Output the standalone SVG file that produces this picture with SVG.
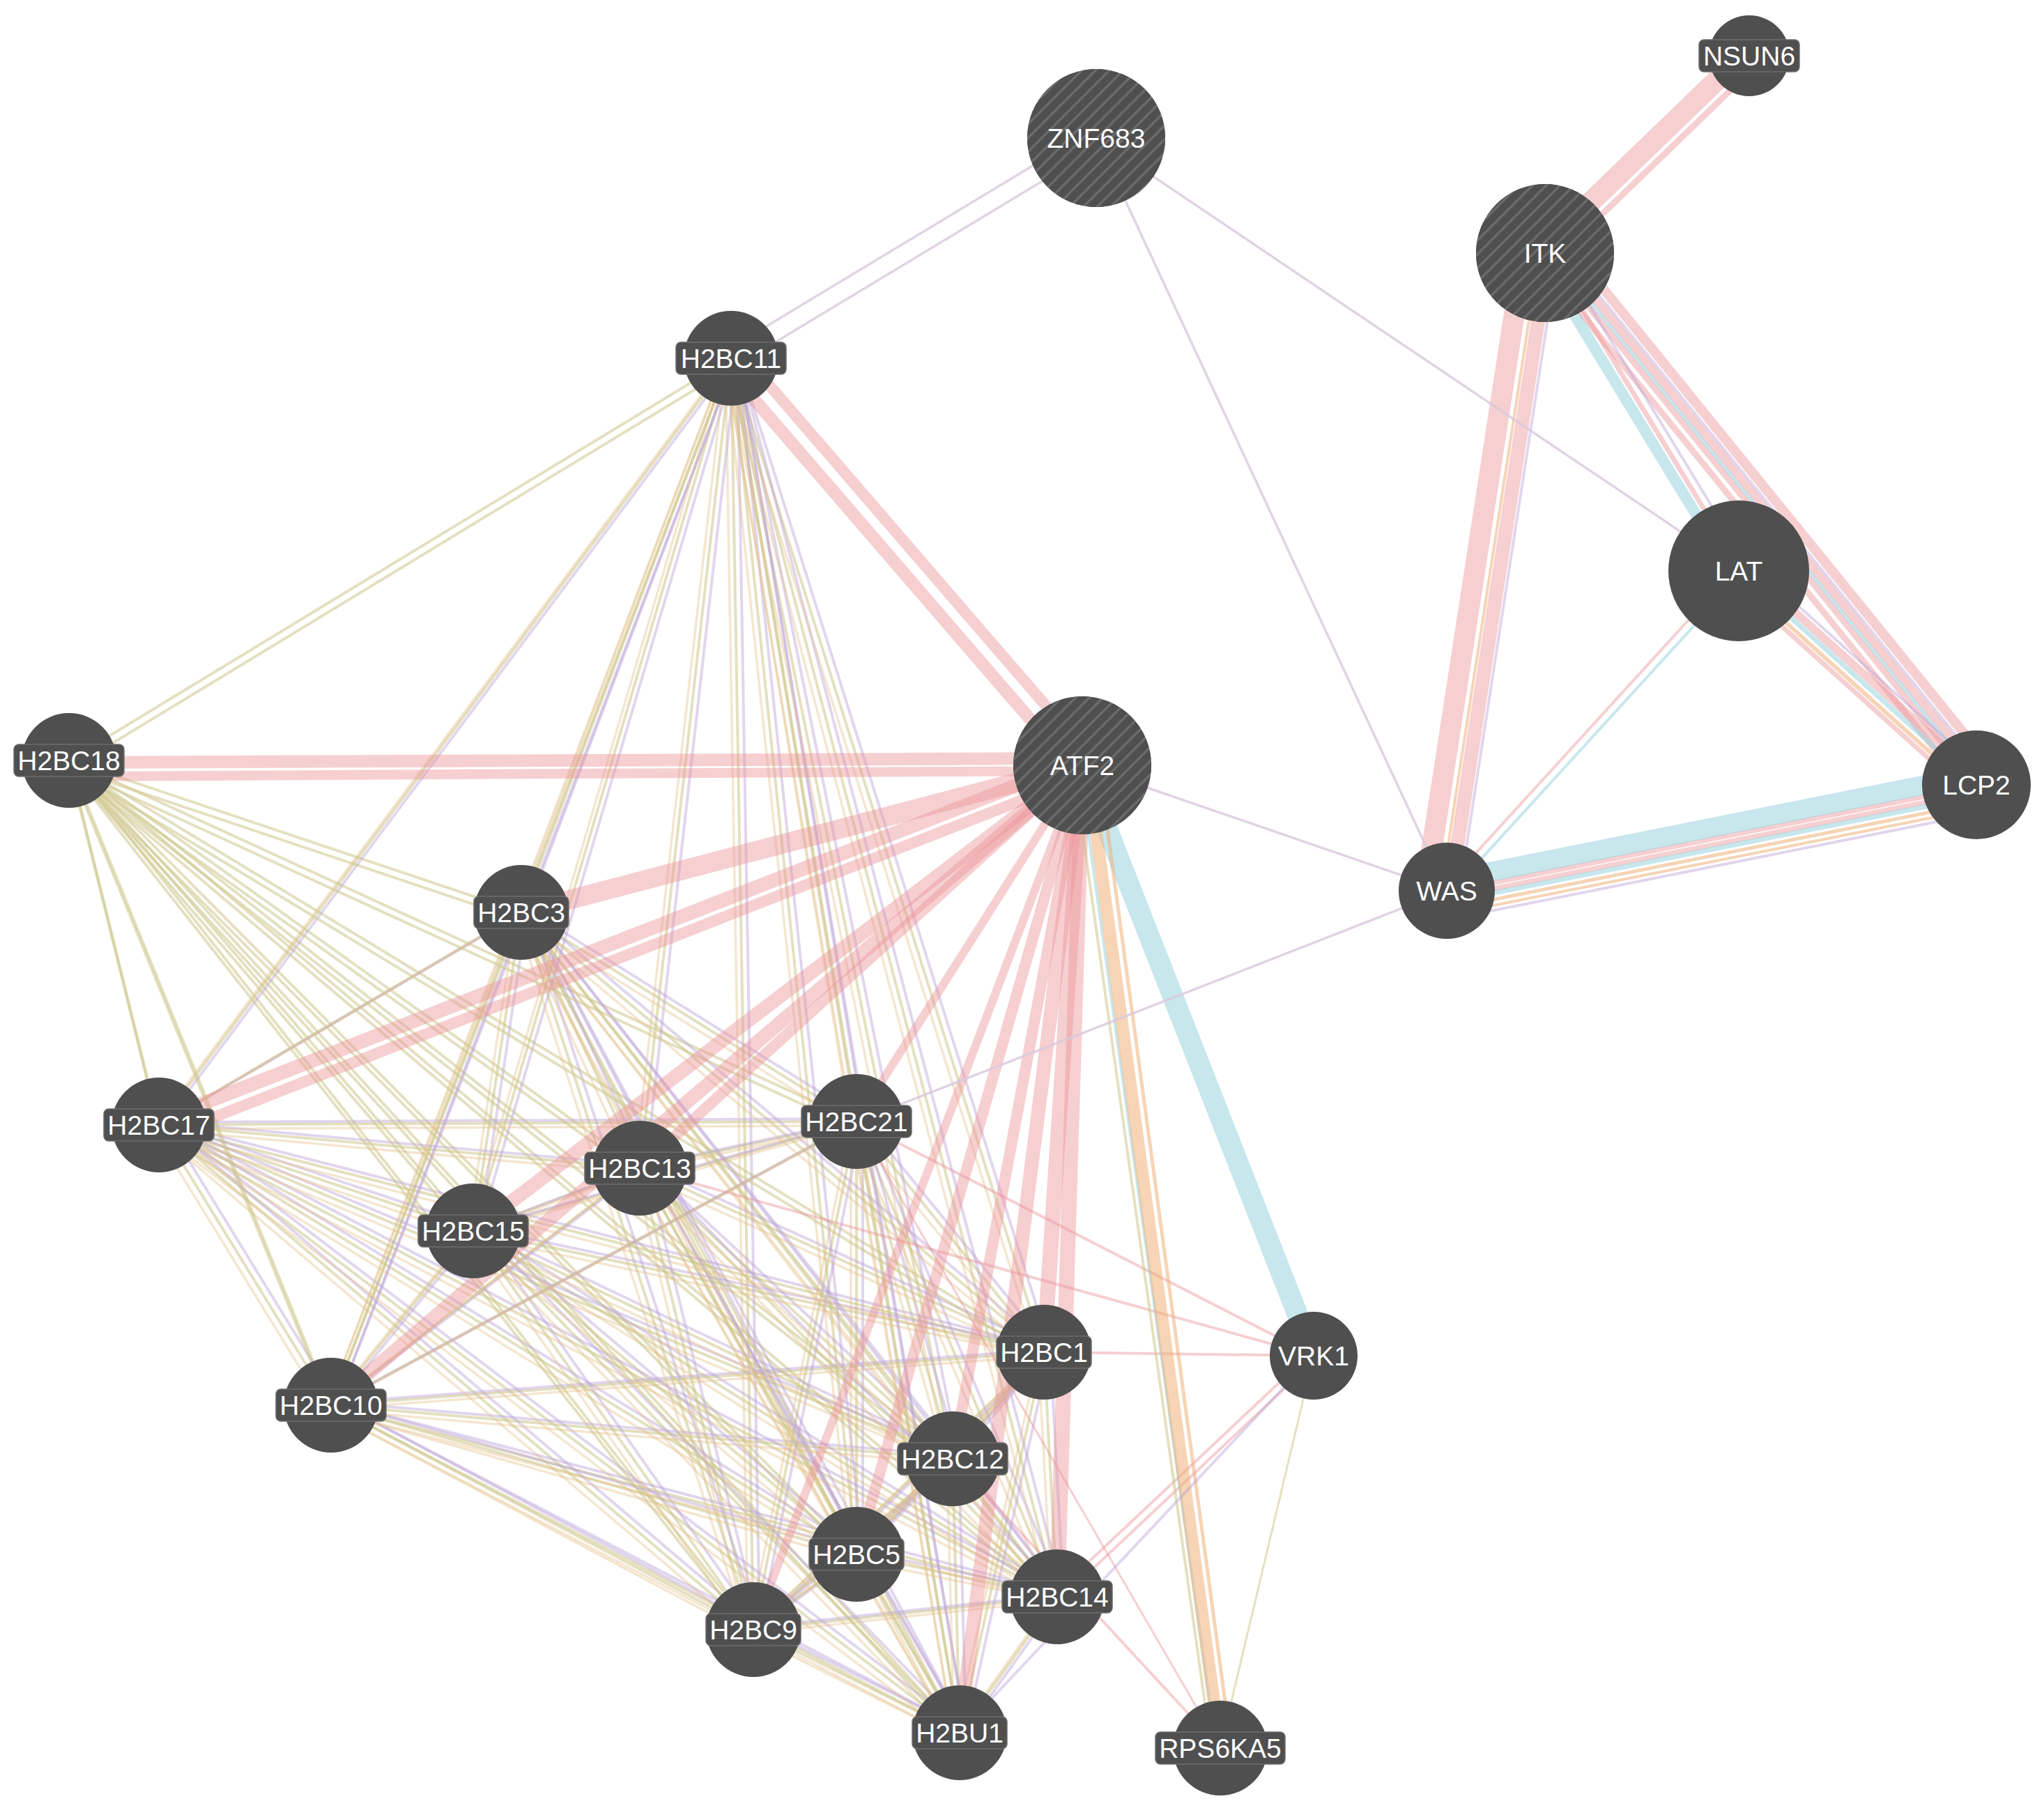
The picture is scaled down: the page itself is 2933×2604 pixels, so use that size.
<svg xmlns="http://www.w3.org/2000/svg" xmlns:xlink="http://www.w3.org/1999/xlink" width="2933" height="2604" viewBox="0 0 2933 2604">
<style>
.k{stroke:#cdc78c;stroke-width:4;stroke-opacity:.55;fill:none}
.p{stroke:#bda3d6;stroke-width:4;stroke-opacity:.45;fill:none}
.t{stroke:#e3c08a;stroke-width:3.5;stroke-opacity:.4;fill:none}
.r{stroke:#ec949a;stroke-opacity:.45;fill:none}
.b{stroke:#8fd0dc;stroke-opacity:.5;fill:none}
.o{stroke:#eeb178;stroke-opacity:.55;fill:none}
.g{stroke:#d8c8dc;stroke-width:3.5;stroke-opacity:.8;fill:none}
.node{fill:#4f4f4f}
.hat{fill:url(#hatch)}
.lb{fill:#4f4f4f;stroke:#6e6e6e;stroke-width:1.5}
text{font-family:"Liberation Sans",Arial,Helvetica,sans-serif;font-size:39px;fill:#ffffff;text-anchor:middle}
</style>
<defs>
<pattern id="hatch" patternUnits="userSpaceOnUse" width="14" height="14" patternTransform="rotate(45)">
<rect width="14" height="14" fill="#4f4f4f"/>
<line x1="7" y1="0" x2="7" y2="14" stroke="#6e6e6e" stroke-width="3"/>
</pattern>
</defs>
<rect width="2933" height="2604" fill="#ffffff"/>
<g id="connectors">
<g class="k">
<g id="clB">
<line x1="1049" y1="514" x2="99" y2="1091"/>
<line x1="99" y1="1091" x2="748" y2="1309"/>
<line x1="99" y1="1091" x2="228" y2="1614"/>
<line x1="99" y1="1091" x2="1229" y2="1609"/>
<line x1="99" y1="1091" x2="918" y2="1676"/>
<line x1="99" y1="1091" x2="679" y2="1766"/>
<line x1="99" y1="1091" x2="475" y2="2016"/>
<line x1="99" y1="1091" x2="1498" y2="1940"/>
<line x1="99" y1="1091" x2="1367" y2="2093"/>
<line x1="99" y1="1091" x2="1229" y2="2230"/>
<line x1="99" y1="1091" x2="1517" y2="2291"/>
<line x1="99" y1="1091" x2="1081" y2="2338"/>
<line x1="99" y1="1091" x2="1377" y2="2486"/>
</g>
<g id="clR">
<line x1="1049" y1="514" x2="748" y2="1309"/>
<line x1="1049" y1="514" x2="228" y2="1614"/>
<line x1="1049" y1="514" x2="1229" y2="1609"/>
<line x1="1049" y1="514" x2="918" y2="1676"/>
<line x1="1049" y1="514" x2="679" y2="1766"/>
<line x1="1049" y1="514" x2="475" y2="2016"/>
<line x1="1049" y1="514" x2="1498" y2="1940"/>
<line x1="1049" y1="514" x2="1367" y2="2093"/>
<line x1="1049" y1="514" x2="1229" y2="2230"/>
<line x1="1049" y1="514" x2="1517" y2="2291"/>
<line x1="1049" y1="514" x2="1081" y2="2338"/>
<line x1="1049" y1="514" x2="1377" y2="2486"/>
<line x1="748" y1="1309" x2="228" y2="1614"/>
<line x1="748" y1="1309" x2="1229" y2="1609"/>
<line x1="748" y1="1309" x2="918" y2="1676"/>
<line x1="748" y1="1309" x2="679" y2="1766"/>
<line x1="748" y1="1309" x2="475" y2="2016"/>
<line x1="748" y1="1309" x2="1498" y2="1940"/>
<line x1="748" y1="1309" x2="1367" y2="2093"/>
<line x1="748" y1="1309" x2="1229" y2="2230"/>
<line x1="748" y1="1309" x2="1517" y2="2291"/>
<line x1="748" y1="1309" x2="1081" y2="2338"/>
<line x1="748" y1="1309" x2="1377" y2="2486"/>
<line x1="228" y1="1614" x2="1229" y2="1609"/>
<line x1="228" y1="1614" x2="918" y2="1676"/>
<line x1="228" y1="1614" x2="679" y2="1766"/>
<line x1="228" y1="1614" x2="475" y2="2016"/>
<line x1="228" y1="1614" x2="1498" y2="1940"/>
<line x1="228" y1="1614" x2="1367" y2="2093"/>
<line x1="228" y1="1614" x2="1229" y2="2230"/>
<line x1="228" y1="1614" x2="1517" y2="2291"/>
<line x1="228" y1="1614" x2="1081" y2="2338"/>
<line x1="228" y1="1614" x2="1377" y2="2486"/>
<line x1="1229" y1="1609" x2="918" y2="1676"/>
<line x1="1229" y1="1609" x2="679" y2="1766"/>
<line x1="1229" y1="1609" x2="475" y2="2016"/>
<line x1="1229" y1="1609" x2="1498" y2="1940"/>
<line x1="1229" y1="1609" x2="1367" y2="2093"/>
<line x1="1229" y1="1609" x2="1229" y2="2230"/>
<line x1="1229" y1="1609" x2="1517" y2="2291"/>
<line x1="1229" y1="1609" x2="1081" y2="2338"/>
<line x1="1229" y1="1609" x2="1377" y2="2486"/>
<line x1="918" y1="1676" x2="679" y2="1766"/>
<line x1="918" y1="1676" x2="475" y2="2016"/>
<line x1="918" y1="1676" x2="1498" y2="1940"/>
<line x1="918" y1="1676" x2="1367" y2="2093"/>
<line x1="918" y1="1676" x2="1229" y2="2230"/>
<line x1="918" y1="1676" x2="1517" y2="2291"/>
<line x1="918" y1="1676" x2="1081" y2="2338"/>
<line x1="918" y1="1676" x2="1377" y2="2486"/>
<line x1="679" y1="1766" x2="475" y2="2016"/>
<line x1="679" y1="1766" x2="1498" y2="1940"/>
<line x1="679" y1="1766" x2="1367" y2="2093"/>
<line x1="679" y1="1766" x2="1229" y2="2230"/>
<line x1="679" y1="1766" x2="1517" y2="2291"/>
<line x1="679" y1="1766" x2="1081" y2="2338"/>
<line x1="679" y1="1766" x2="1377" y2="2486"/>
<line x1="475" y1="2016" x2="1498" y2="1940"/>
<line x1="475" y1="2016" x2="1367" y2="2093"/>
<line x1="475" y1="2016" x2="1229" y2="2230"/>
<line x1="475" y1="2016" x2="1517" y2="2291"/>
<line x1="475" y1="2016" x2="1081" y2="2338"/>
<line x1="475" y1="2016" x2="1377" y2="2486"/>
<line x1="1498" y1="1940" x2="1367" y2="2093"/>
<line x1="1498" y1="1940" x2="1229" y2="2230"/>
<line x1="1498" y1="1940" x2="1517" y2="2291"/>
<line x1="1498" y1="1940" x2="1081" y2="2338"/>
<line x1="1498" y1="1940" x2="1377" y2="2486"/>
<line x1="1367" y1="2093" x2="1229" y2="2230"/>
<line x1="1367" y1="2093" x2="1517" y2="2291"/>
<line x1="1367" y1="2093" x2="1081" y2="2338"/>
<line x1="1367" y1="2093" x2="1377" y2="2486"/>
<line x1="1229" y1="2230" x2="1517" y2="2291"/>
<line x1="1229" y1="2230" x2="1081" y2="2338"/>
<line x1="1229" y1="2230" x2="1377" y2="2486"/>
<line x1="1517" y1="2291" x2="1081" y2="2338"/>
<line x1="1517" y1="2291" x2="1377" y2="2486"/>
<line x1="1081" y1="2338" x2="1377" y2="2486"/>
</g>
</g>
<use href="#clR" xlink:href="#clR" class="p" transform="translate(9,-4)"/>
<use href="#clR" xlink:href="#clR" class="t" transform="translate(-8,6)"/>
<use href="#clB" xlink:href="#clB" class="k" transform="translate(2,12)"/>
<g class="r">
<line x1="99" y1="1094" x2="1553" y2="1088" stroke-width="18"/>
<line x1="99" y1="1114" x2="1553" y2="1106" stroke-width="14"/>
<line x1="1039" y1="523" x2="1543" y2="1107" stroke-width="18"/>
<line x1="1061" y1="503" x2="1565" y2="1087" stroke-width="16"/>
<line x1="748" y1="1309" x2="1553" y2="1098" stroke-width="28"/>
<line x1="228" y1="1608" x2="1553" y2="1090" stroke-width="20"/>
<line x1="238" y1="1630" x2="1558" y2="1112" stroke-width="16"/>
<line x1="679" y1="1766" x2="1553" y2="1098" stroke-width="20"/>
<line x1="475" y1="2016" x2="1553" y2="1098" stroke-width="20"/>
<line x1="918" y1="1676" x2="1553" y2="1098" stroke-width="16"/>
<line x1="1229" y1="1609" x2="1553" y2="1098" stroke-width="12"/>
<line x1="1498" y1="1940" x2="1553" y2="1098" stroke-width="22"/>
<line x1="1367" y1="2093" x2="1553" y2="1098" stroke-width="16"/>
<line x1="1229" y1="2230" x2="1553" y2="1098" stroke-width="16"/>
<line x1="1517" y1="2291" x2="1553" y2="1098" stroke-width="22"/>
<line x1="1081" y1="2338" x2="1553" y2="1098" stroke-width="12"/>
<line x1="1377" y1="2486" x2="1553" y2="1098" stroke-width="20"/>
<line x1="1498" y1="1940" x2="1885" y2="1945" stroke-width="4"/>
<line x1="1229" y1="1609" x2="1885" y2="1945" stroke-width="4"/>
<line x1="918" y1="1676" x2="1885" y2="1945" stroke-width="4"/>
<line x1="1513" y1="2287" x2="1881" y2="1941" stroke-width="4"/>
<line x1="1521" y1="2295" x2="1889" y2="1949" stroke-width="4"/>
<line x1="1367" y1="2093" x2="1751" y2="2508" stroke-width="4"/>
<line x1="1229" y1="1609" x2="1751" y2="2508" stroke-width="3"/>
<line x1="2212" y1="358" x2="2505" y2="75" stroke-width="30"/>
<line x1="2229" y1="375" x2="2522" y2="92" stroke-width="9"/>
<line x1="2187" y1="359" x2="2046" y2="1274" stroke-width="30"/>
<line x1="2225" y1="364" x2="2084" y2="1279" stroke-width="14"/>
<line x1="2215" y1="363" x2="2074" y2="1278" stroke-width="6"/>
<line x1="2220" y1="361" x2="2498" y2="817" stroke-width="7"/>
<line x1="2242" y1="342" x2="2861" y2="1105" stroke-width="14"/>
<line x1="2228" y1="354" x2="2847" y2="1117" stroke-width="12"/>
<line x1="2217" y1="363" x2="2836" y2="1126" stroke-width="9"/>
<line x1="2206" y1="372" x2="2825" y2="1135" stroke-width="9"/>
<line x1="2502" y1="812" x2="2843" y2="1119" stroke-width="12"/>
<line x1="2483" y1="832" x2="2824" y2="1139" stroke-width="7"/>
<line x1="2491" y1="815" x2="2072" y2="1274" stroke-width="4"/>
<line x1="2076" y1="1280" x2="2836" y2="1128" stroke-width="7"/>
<line x1="2078" y1="1288" x2="2838" y2="1136" stroke-width="7"/>
</g>
<g class="b">
<line x1="1553" y1="1098" x2="1885" y2="1945" stroke-width="30"/>
<line x1="1548" y1="1098" x2="1745" y2="2508" stroke-width="4"/>
<line x1="2208" y1="368" x2="2486" y2="824" stroke-width="16"/>
<line x1="2222" y1="359" x2="2841" y2="1122" stroke-width="5"/>
<line x1="2495" y1="819" x2="2836" y2="1126" stroke-width="7"/>
<line x1="2499" y1="823" x2="2080" y2="1282" stroke-width="4"/>
<line x1="2073" y1="1264" x2="2833" y2="1112" stroke-width="28"/>
<line x1="2079" y1="1294" x2="2839" y2="1142" stroke-width="7"/>
</g>
<g class="o">
<line x1="1560" y1="1100" x2="1751" y2="2508" stroke-width="18"/>
<line x1="1577" y1="1100" x2="1767" y2="2508" stroke-width="5"/>
<line x1="2209" y1="362" x2="2068" y2="1277" stroke-width="4"/>
<line x1="2488" y1="826" x2="2829" y2="1133" stroke-width="6"/>
<line x1="2081" y1="1303" x2="2841" y2="1151" stroke-width="5"/>
<line x1="2083" y1="1311" x2="2843" y2="1159" stroke-width="4"/>
</g>
<g class="k">
<line x1="1540" y1="1098" x2="1738" y2="2508"/>
<line x1="1885" y1="1945" x2="1751" y2="2508" stroke-width="3"/>
</g>
<g class="p">
<line x1="1885" y1="1945" x2="1377" y2="2486"/>
<line x1="2235" y1="366" x2="2094" y2="1281"/>
<line x1="2230" y1="355" x2="2508" y2="811"/>
<line x1="2234" y1="349" x2="2853" y2="1112"/>
<line x1="2508" y1="804" x2="2849" y2="1111"/>
<line x1="2084" y1="1318" x2="2844" y2="1166"/>
</g>
<g class="g">
<line x1="1042" y1="503" x2="1566" y2="187"/>
<line x1="1056" y1="525" x2="1580" y2="209"/>
<line x1="1573" y1="198" x2="2076" y2="1278"/>
<line x1="1573" y1="198" x2="2495" y2="819"/>
<line x1="1553" y1="1098" x2="2076" y2="1278"/>
<line x1="2076" y1="1278" x2="1229" y2="1609"/>
</g>
</g>
<g id="n-ZNF683"><circle cx="1573" cy="198" r="99" class="node"/><circle cx="1573" cy="198" r="99" class="hat"/><text x="1573" y="212">ZNF683</text></g>
<g id="n-NSUN6"><circle cx="2510" cy="80" r="58" class="node"/><rect x="2438" y="57" width="144" height="46" rx="7" class="lb"/><text x="2510" y="94">NSUN6</text></g>
<g id="n-ITK"><circle cx="2217" cy="363" r="99" class="node"/><circle cx="2217" cy="363" r="99" class="hat"/><text x="2217" y="377">ITK</text></g>
<g id="n-LAT"><circle cx="2495" cy="819" r="101" class="node"/><text x="2495" y="833">LAT</text></g>
<g id="n-LCP2"><circle cx="2836" cy="1126" r="78" class="node"/><text x="2836" y="1140">LCP2</text></g>
<g id="n-WAS"><circle cx="2076" cy="1278" r="69" class="node"/><text x="2076" y="1292">WAS</text></g>
<g id="n-ATF2"><circle cx="1553" cy="1098" r="99" class="node"/><circle cx="1553" cy="1098" r="99" class="hat"/><text x="1553" y="1112">ATF2</text></g>
<g id="n-H2BC11"><circle cx="1049" cy="514" r="68" class="node"/><rect x="970" y="491" width="158" height="46" rx="7" class="lb"/><text x="1049" y="528">H2BC11</text></g>
<g id="n-H2BC18"><circle cx="99" cy="1091" r="68" class="node"/><rect x="20" y="1068" width="158" height="46" rx="7" class="lb"/><text x="99" y="1105">H2BC18</text></g>
<g id="n-H2BC3"><circle cx="748" cy="1309" r="68" class="node"/><rect x="680" y="1286" width="136" height="46" rx="7" class="lb"/><text x="748" y="1323">H2BC3</text></g>
<g id="n-H2BC17"><circle cx="228" cy="1614" r="68" class="node"/><rect x="149" y="1591" width="158" height="46" rx="7" class="lb"/><text x="228" y="1628">H2BC17</text></g>
<g id="n-H2BC21"><circle cx="1229" cy="1609" r="68" class="node"/><rect x="1150" y="1586" width="158" height="46" rx="7" class="lb"/><text x="1229" y="1623">H2BC21</text></g>
<g id="n-H2BC13"><circle cx="918" cy="1676" r="68" class="node"/><rect x="839" y="1653" width="158" height="46" rx="7" class="lb"/><text x="918" y="1690">H2BC13</text></g>
<g id="n-H2BC15"><circle cx="679" cy="1766" r="68" class="node"/><rect x="600" y="1743" width="158" height="46" rx="7" class="lb"/><text x="679" y="1780">H2BC15</text></g>
<g id="n-H2BC10"><circle cx="475" cy="2016" r="68" class="node"/><rect x="396" y="1993" width="158" height="46" rx="7" class="lb"/><text x="475" y="2030">H2BC10</text></g>
<g id="n-H2BC1"><circle cx="1498" cy="1940" r="68" class="node"/><rect x="1430" y="1917" width="136" height="46" rx="7" class="lb"/><text x="1498" y="1954">H2BC1</text></g>
<g id="n-VRK1"><circle cx="1885" cy="1945" r="63" class="node"/><text x="1885" y="1959">VRK1</text></g>
<g id="n-H2BC12"><circle cx="1367" cy="2093" r="68" class="node"/><rect x="1288" y="2070" width="158" height="46" rx="7" class="lb"/><text x="1367" y="2107">H2BC12</text></g>
<g id="n-H2BC5"><circle cx="1229" cy="2230" r="68" class="node"/><rect x="1161" y="2207" width="136" height="46" rx="7" class="lb"/><text x="1229" y="2244">H2BC5</text></g>
<g id="n-H2BC14"><circle cx="1517" cy="2291" r="68" class="node"/><rect x="1438" y="2268" width="158" height="46" rx="7" class="lb"/><text x="1517" y="2305">H2BC14</text></g>
<g id="n-H2BC9"><circle cx="1081" cy="2338" r="68" class="node"/><rect x="1013" y="2315" width="136" height="46" rx="7" class="lb"/><text x="1081" y="2352">H2BC9</text></g>
<g id="n-H2BU1"><circle cx="1377" cy="2486" r="68" class="node"/><rect x="1309" y="2463" width="136" height="46" rx="7" class="lb"/><text x="1377" y="2500">H2BU1</text></g>
<g id="n-RPS6KA5"><circle cx="1751" cy="2508" r="68" class="node"/><rect x="1658" y="2485" width="186" height="46" rx="7" class="lb"/><text x="1751" y="2522">RPS6KA5</text></g>
</svg>
